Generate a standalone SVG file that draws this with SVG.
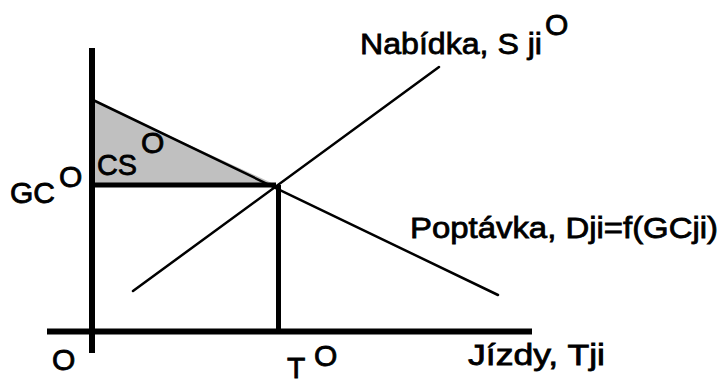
<svg xmlns="http://www.w3.org/2000/svg" width="720" height="385" viewBox="0 0 720 385">
<style>
text{font-family:"Liberation Sans",Arial,sans-serif;font-size:30px;fill:#000;stroke:#000;stroke-width:0.8}
.ax{stroke:#000;stroke-width:6;fill:none}
.ln{stroke:#000;stroke-width:2.5;fill:none;stroke-linecap:round}
.th{stroke:#000;stroke-width:5;fill:none}
</style>
<rect width="720" height="385" fill="#fff"/>
<g id="surplus">
<polygon points="94,101 94,185 276,185" fill="#c0c0c0"/>
</g>
<g id="connectors">
<line id="demand" class="ln" x1="93" y1="100" x2="498" y2="295"/>
<line id="supply" class="ln" x1="133" y1="291" x2="439" y2="67"/>
<line id="gc-line" class="th" x1="92" y1="185" x2="276" y2="185"/>
<line id="t-line" class="th" x1="278.5" y1="185" x2="278.5" y2="331"/>
<line id="y-axis" class="ax" x1="92" y1="48" x2="92" y2="353"/>
<line id="x-axis" class="ax" x1="47" y1="331.5" x2="532" y2="331.5"/>
</g>
<g id="label-supply">
<text x="360" y="54" textLength="182" lengthAdjust="spacingAndGlyphs">Nabídka, S ji</text>
<text x="545" y="35">O</text>
</g>
<g id="label-gc">
<text x="10" y="203" textLength="45" lengthAdjust="spacingAndGlyphs">GC</text>
<text x="59" y="187">O</text>
</g>
<g id="label-cs">
<text x="97" y="175" textLength="40" lengthAdjust="spacingAndGlyphs">CS</text>
<text x="141" y="153">O</text>
</g>
<g id="label-origin">
<text x="52" y="370">O</text>
</g>
<g id="label-t">
<text x="287" y="378">T</text>
<text x="314" y="366">O</text>
</g>
<g id="label-demand">
<text x="410" y="238" textLength="308" lengthAdjust="spacingAndGlyphs">Poptávka, Dji=f(GCji)</text>
</g>
<g id="label-x">
<text x="468" y="365" textLength="137" lengthAdjust="spacingAndGlyphs">Jízdy, Tji</text>
</g>
</svg>
